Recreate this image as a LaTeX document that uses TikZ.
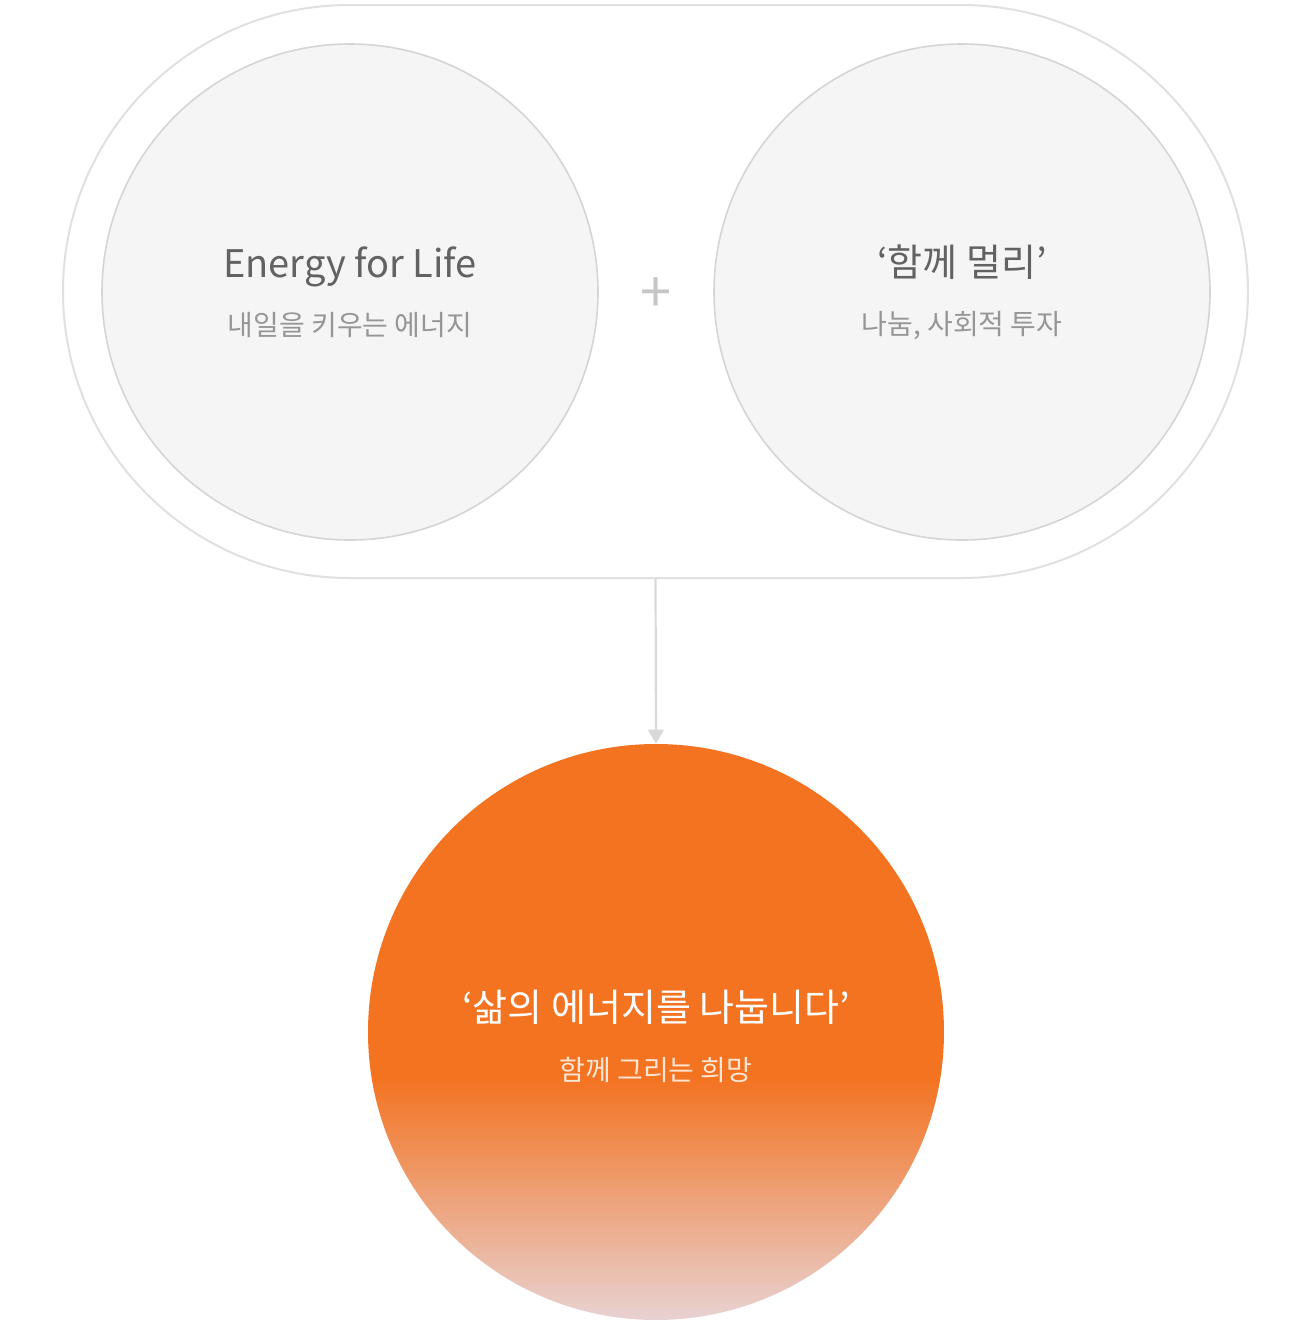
\documentclass[tikz,border=0pt]{standalone}
\usepackage{fontspec}
\setmainfont{Noto Sans CJK KR}
\usepackage{tikz}
\usetikzlibrary{arrows.meta,shapes.misc}
\definecolor{lfline}{HTML}{E0E0E0}
\definecolor{lffill}{HTML}{F5F5F5}
\definecolor{lftitle}{HTML}{626262}
\definecolor{lfsub}{HTML}{969696}
\definecolor{lforange}{HTML}{F37321}
\definecolor{lfpale}{HTML}{E8D2D2}
\definecolor{lfsoft}{HTML}{FDE6D6}
\pgfdeclareverticalshading{lfglow}{100bp}{color(0bp)=(lfpale); color(25bp)=(lfpale);
  color(46bp)=(lforange); color(100bp)=(lforange)}

\begin{document}
\begin{tikzpicture}[x=0.5pt,y=-0.5pt,
  pill/.style={draw=lfline,line width=1pt,rounded rectangle,
    minimum width=592.5pt,minimum height=286.5pt,inner sep=0pt},
  part/.style={circle,draw=lfline!95!black,fill=lffill,line width=0.8pt,
    minimum size=248pt,inner sep=0pt},
  title/.style={anchor=base,font=\fontsize{19}{23}\selectfont,text=lftitle},
  sub/.style={anchor=base,font=\fontsize{14}{17}\selectfont,text=lfsub},
  link/.style={-{Triangle[width=8pt,length=7pt]},draw=lfline!97!black,line width=1.1pt}
]
\useasboundingbox (0,0) rectangle (1312,1324);
\node[pill] (outer) at (655.5,291.5) {};
\node[part] (life) at (350,292) {};
\node[part] (far) at (962,292) {};
\node[font=\fontsize{28}{32}\selectfont,text=lfline!88!black,inner sep=0pt] (plus) at (656,295) {+};
\node[title] (lifet) at (350,277) {Energy for Life};
\node[sub] (lifes) at (350,335) {내일을 키우는 에너지};
\node[title] (fart) at (962,276) {‘함께 멀리’};
\node[sub] (fars) at (962,334) {나눔, 사회적 투자};
\node[circle,shading=lfglow,minimum size=288pt,inner sep=0pt] (hope) at (656,1032) {};
\node[title,text=white,font=\fontsize{19}{23}\selectfont] (hopet) at (656,1021) {‘삶의 에너지를 나눕니다’};
\node[sub,text=lfsoft] (hopes) at (656,1080) {함께 그리는 희망};
\draw[link] (outer.south) -- (hope.north);
\end{tikzpicture}
\end{document}
